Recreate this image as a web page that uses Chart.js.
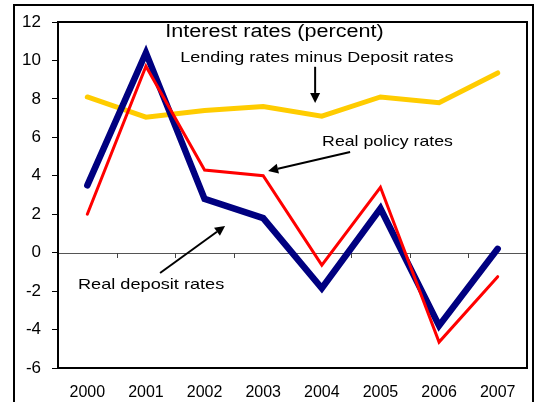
<!DOCTYPE html>
<html>
<head>
<meta charset="utf-8">
<script src="https://cdn.jsdelivr.net/npm/chart.js@4/dist/chart.umd.min.js"></script>
<style>
  html, body { margin: 0; padding: 0; background: #fff; }
  #wrap { width: 536px; height: 402px; }
</style>
</head>
<body>
<div id="wrap"><canvas id="c" width="536" height="402"></canvas></div>
<script>
// Years on the category axis
const years = ['2000', '2001', '2002', '2003', '2004', '2005', '2006', '2007'];

// Series values, percent
const realDepositRates   = [3.5, 10.4, 2.8, 1.8, -1.85, 2.3, -3.8, 0.2];
const realPolicyRates    = [2.0, 9.7, 4.3, 4.0, -0.65, 3.4, -4.65, -1.25];
const lendingMinusDeposit = [8.1, 7.05, 7.4, 7.6, 7.1, 8.1, 7.8, 9.35];

// Value axis range and step
const yMin = -6;
const yMax = 12;
const yStep = 2;

// Text labels and arrows, placed in data space (category index, value)
const titleText = 'Interest rates (percent)';
const labelTexts = ['Lending rates minus Deposit rates', 'Real policy rates', 'Real deposit rates'];

const FONT = '"Liberation Sans", Arial, sans-serif';

// x in fractional category units -> pixel
function xAt(chart, i) {
  const xs = chart.scales.x;
  const p0 = xs.getPixelForValue(0);
  const p1 = xs.getPixelForValue(1);
  return p0 + i * (p1 - p0);
}
function yAt(chart, v) {
  return chart.scales.y.getPixelForValue(v);
}

// Left-aligned text, widened horizontally
function wideText(ctx, text, x, y, size, stretch) {
  ctx.save();
  ctx.translate(x, y);
  ctx.scale(stretch, 1);
  ctx.font = size + 'px ' + FONT;
  ctx.fillText(text, 0, 0);
  ctx.restore();
}

function drawArrow(ctx, x1, y1, x2, y2) {
  const ang = Math.atan2(y2 - y1, x2 - x1);
  const head = 10, half = 5;
  const bx = x2 - head * Math.cos(ang), by = y2 - head * Math.sin(ang);
  ctx.beginPath();
  ctx.moveTo(x1, y1);
  ctx.lineTo(bx, by);
  ctx.lineWidth = 2;
  ctx.strokeStyle = '#000';
  ctx.stroke();
  ctx.beginPath();
  ctx.moveTo(x2, y2);
  ctx.lineTo(bx + half * Math.sin(ang), by - half * Math.cos(ang));
  ctx.lineTo(bx - half * Math.sin(ang), by + half * Math.cos(ang));
  ctx.closePath();
  ctx.fillStyle = '#000';
  ctx.fill();
}

// Outer frame, plot frame, zero line with its small ticks, text and arrows
const framePlugin = {
  id: 'frames',
  beforeDraw(chart) {
    const ctx = chart.ctx;
    ctx.save();
    ctx.fillStyle = '#fff';
    ctx.fillRect(0, 0, chart.width, chart.height);
    ctx.strokeStyle = '#000';
    ctx.lineWidth = 2;
    ctx.strokeRect(14, 5, 519, 420);
    ctx.restore();
  },
  beforeDatasetsDraw(chart) {
    const ctx = chart.ctx;
    const a = chart.chartArea;
    const y0 = yAt(chart, 0);
    ctx.save();
    ctx.strokeStyle = '#555';
    ctx.lineWidth = 1;
    ctx.beginPath();
    ctx.moveTo(a.left, Math.round(y0) + 0.5);
    ctx.lineTo(a.right, Math.round(y0) + 0.5);
    ctx.stroke();
    ctx.strokeStyle = '#444';
    for (let i = 0; i < years.length - 1; i++) {
      const x = Math.round(xAt(chart, i + 0.5)) + 0.5;
      ctx.beginPath();
      ctx.moveTo(x, Math.round(y0));
      ctx.lineTo(x, Math.round(y0) + 5);
      ctx.stroke();
    }
    ctx.restore();
  },
  afterDraw(chart) {
    const ctx = chart.ctx;
    const a = chart.chartArea;
    ctx.save();
    ctx.strokeStyle = '#000';
    ctx.lineWidth = 2;
    ctx.strokeRect(a.left, a.top, a.right - a.left, a.bottom - a.top);

    ctx.fillStyle = '#000';
    ctx.textBaseline = 'middle';
    ctx.textAlign = 'left';
    wideText(ctx, titleText, xAt(chart, 1.33), yAt(chart, 11.49), 18, 1.2);
    wideText(ctx, labelTexts[0], xAt(chart, 1.585), yAt(chart, 10.14), 15, 1.2);
    wideText(ctx, labelTexts[1], xAt(chart, 4.005), yAt(chart, 5.76), 15, 1.18);
    wideText(ctx, labelTexts[2], xAt(chart, -0.159), yAt(chart, -1.69), 15, 1.21);

    drawArrow(ctx, xAt(chart, 3.886), yAt(chart, 9.67), xAt(chart, 3.886), yAt(chart, 7.79));
    drawArrow(ctx, xAt(chart, 4.483), yAt(chart, 5.24), xAt(chart, 3.084), yAt(chart, 4.25));
    drawArrow(ctx, xAt(chart, 1.241), yAt(chart, -1.06), xAt(chart, 2.35), yAt(chart, 1.39));
    ctx.restore();
  }
};

const lineStyle = { pointRadius: 0, tension: 0, borderCapStyle: 'round', borderJoinStyle: 'miter', fill: false };

new Chart(document.getElementById('c'), {
  type: 'line',
  data: {
    labels: years,
    datasets: [
      Object.assign({ label: labelTexts[2], data: realDepositRates, borderColor: '#000080', borderWidth: 6.5, order: 2 }, lineStyle),
      Object.assign({ label: labelTexts[1], data: realPolicyRates, borderColor: '#ff0000', borderWidth: 3, order: 1 }, lineStyle),
      Object.assign({ label: labelTexts[0], data: lendingMinusDeposit, borderColor: '#ffcc00', borderWidth: 5, order: 3 }, lineStyle)
    ]
  },
  options: {
    responsive: false,
    animation: false,
    layout: { padding: { left: 0, top: 22, right: 9, bottom: 0 } },
    plugins: { legend: { display: false }, tooltip: { enabled: false }, title: { display: false } },
    scales: {
      x: {
        offset: true,
        grid: { display: false },
        border: { display: true, color: '#000', width: 2 },
        ticks: { color: '#000', font: { family: FONT, size: 16 }, padding: 7, maxRotation: 0 },
        afterFit(scale) { scale.height = 34; }
      },
      y: {
        min: yMin,
        max: yMax,
        grid: { drawOnChartArea: false, drawTicks: true, tickLength: 6, color: '#000', lineWidth: 1 },
        border: { display: true, color: '#000', width: 2 },
        ticks: { stepSize: yStep, color: '#000', font: { family: FONT, size: 17 }, padding: 11 },
        afterFit(scale) { scale.width = 58; }
      }
    }
  },
  plugins: [framePlugin]
});
</script>
</body>
</html>
